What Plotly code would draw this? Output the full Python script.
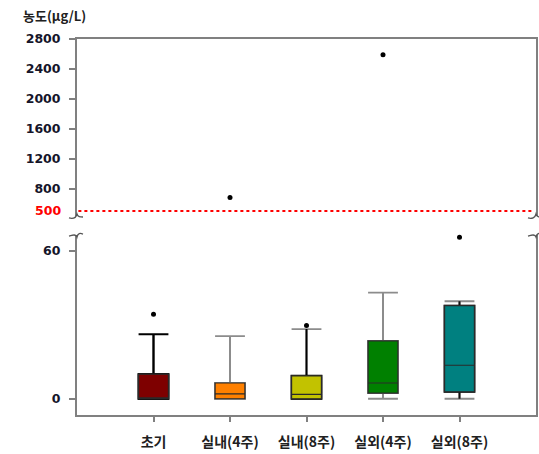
import plotly.graph_objects as go

# ---- data -------------------------------------------------------------
categories = ["초기", "실내(4주)", "실내(8주)", "실외(4주)", "실외(8주)"]
q1 = [0.0, 0.0, 0.0, 2.3, 2.8]
median = [0.2, 2.0, 1.8, 6.4, 13.6]
q3 = [10.0, 6.4, 9.3, 23.5, 37.8]
lower_whisker = [0.0, 0.0, 0.0, 0.0, 0.0]
upper_whisker = [26.2, 25.4, 28.3, 43.1, 39.6]
outliers = [[34.3], [680.0], [29.7], [2590.0], [65.6]]

threshold = 500  # broken-axis split / reference line

lower_ticks = [0, 60]
upper_ticks = [800, 1200, 1600, 2000, 2400, 2800]

fill_colors = ["#7E0000", "#FF8000", "#C2C200", "#008000", "#008080"]
stem_colors = ["#000000", "#8C8C8C", "#000000", "#8C8C8C", "#111111"]
cap_colors = ["#000000", "#8C8C8C", "#8C8C8C", "#8C8C8C", "#8C8C8C"]

# ---- figure -----------------------------------------------------------
fig = go.Figure()
box_w = 0.39

for i, cat in enumerate(categories):
    common = dict(x=[i], width=box_w, fillcolor=fill_colors[i],
                  boxpoints=False, hoverinfo="skip", showlegend=False,
                  xaxis="x", yaxis="y")
    # whisker caps
    fig.add_trace(go.Box(q1=[q1[i]], median=[median[i]], q3=[q3[i]],
                         lowerfence=[lower_whisker[i]], upperfence=[upper_whisker[i]],
                         whiskerwidth=1, line=dict(color=cap_colors[i], width=1.8),
                         **common))
    # whisker stems
    fig.add_trace(go.Box(q1=[q1[i]], median=[median[i]], q3=[q3[i]],
                         lowerfence=[lower_whisker[i]], upperfence=[upper_whisker[i]],
                         whiskerwidth=0, line=dict(color=stem_colors[i], width=2),
                         **common))
    # box body and median
    fig.add_trace(go.Box(q1=[q1[i]], median=[median[i]], q3=[q3[i]],
                         lowerfence=[q1[i]], upperfence=[q3[i]],
                         whiskerwidth=1, line=dict(color="#2A2A2A", width=1.2),
                         **common))

# outliers, split between the two panels
lo_x, lo_y, hi_x, hi_y = [], [], [], []
for i, vals in enumerate(outliers):
    for v in vals:
        if v >= threshold:
            hi_x.append(i); hi_y.append(v)
        else:
            lo_x.append(i); lo_y.append(v)

fig.add_trace(go.Scatter(x=lo_x, y=lo_y, mode="markers", xaxis="x", yaxis="y",
                         marker=dict(color="black", size=5), cliponaxis=False,
                         hoverinfo="skip", showlegend=False))
fig.add_trace(go.Scatter(x=hi_x, y=hi_y, mode="markers", xaxis="x2", yaxis="y2",
                         marker=dict(color="black", size=5), cliponaxis=False,
                         hoverinfo="skip", showlegend=False))

axis_gray = "#808080"
num_font = dict(family="DejaVu Sans", size=12.5, color="#15152A", weight="bold")

fig.update_layout(
    width=539, height=454, autosize=False,
    margin=dict(l=77, r=1, t=39, b=39),
    paper_bgcolor="white", plot_bgcolor="white",
    boxmode="overlay", showlegend=False,
    xaxis=dict(domain=[0, 1], anchor="y", range=[-1, 5],
               tickmode="array", tickvals=list(range(len(categories))),
               ticktext=categories, ticks="outside", ticklen=5,
               tickcolor=axis_gray, tickwidth=1.5,
               showline=True, linecolor=axis_gray, linewidth=2,
               showgrid=False, zeroline=False, ticklabelstandoff=8,
               tickfont=dict(family="Noto Sans CJK KR", size=14,
                             color="#202020", weight="bold")),
    xaxis2=dict(domain=[0, 1], anchor="y2", matches="x", side="top",
                showline=True, linecolor=axis_gray, linewidth=2,
                ticks="", showticklabels=False, showgrid=False, zeroline=False),
    yaxis=dict(domain=[0, 0.4787], anchor="x", range=[-6.6, 66.5],
               tickmode="array", tickvals=lower_ticks,
               ticks="outside", ticklen=6, tickcolor=axis_gray, tickwidth=1.5,
               showline=True, mirror=True, linecolor=axis_gray, linewidth=2,
               showgrid=False, zeroline=False, ticklabelstandoff=6,
               tickfont=num_font),
    yaxis2=dict(domain=[0.5293, 1], anchor="x2", range=[433, 2800],
                tickmode="array", tickvals=upper_ticks,
                ticks="outside", ticklen=6, tickcolor=axis_gray, tickwidth=1.5,
                showline=True, mirror=True, linecolor=axis_gray, linewidth=2,
                showgrid=False, zeroline=False, ticklabelstandoff=6,
                tickfont=num_font),
)

# threshold reference line
fig.add_shape(type="line", xref="paper", yref="y2", x0=0.003, x1=0.99,
              y0=threshold, y1=threshold,
              line=dict(color="#FF0000", width=2, dash="dot"))

fig.add_annotation(xref="paper", yref="y2", x=0, y=threshold,
                   text=str(threshold), showarrow=False,
                   xanchor="right", yanchor="middle", xshift=-14,
                   font=dict(family="DejaVu Sans", size=12.5, color="#FF0000",
                             weight="bold"))

# axis title
fig.add_annotation(xref="paper", yref="paper", x=-0.1215, y=1.062,
                   text="농도(μg/L)", showarrow=False,
                   xanchor="left", yanchor="middle",
                   font=dict(family="Noto Sans CJK KR", size=13,
                             color="#202020", weight="bold"))

# break marks on the axis ends
brk_line = dict(color="#555555", width=1.3)
for xa in (0, 1):
    fig.add_shape(type="path", xref="paper", yref="paper",
                  xsizemode="pixel", ysizemode="pixel",
                  xanchor=xa, yanchor=0.5293,
                  path="M -8,-2 C -4,-3 -1,-2 0,2 C 1,-1 3,-1 6,-1",
                  line=brk_line)
    fig.add_shape(type="path", xref="paper", yref="paper",
                  xsizemode="pixel", ysizemode="pixel",
                  xanchor=xa, yanchor=0.4787,
                  path="M -8,-1 C -4,0 -1,1 0,-2 C 1,2 3,2 6,1",
                  line=brk_line)

fig.write_html("out.html")
